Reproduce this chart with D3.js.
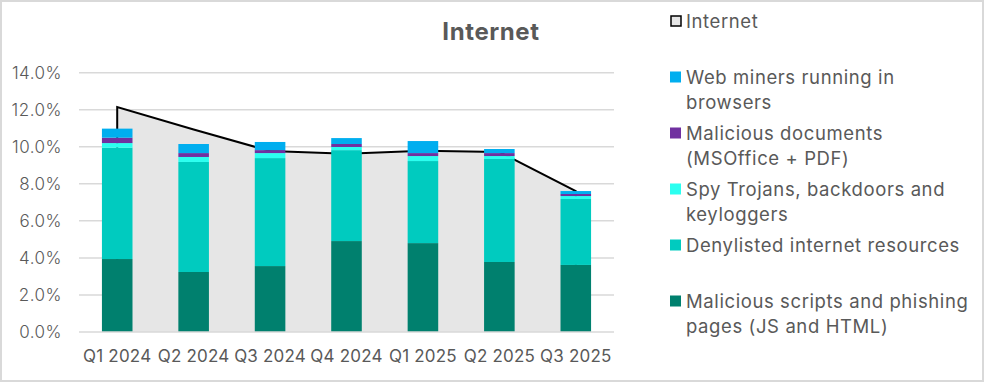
<!DOCTYPE html>
<html><head><meta charset="utf-8">
<script src="https://cdn.jsdelivr.net/npm/d3@7"></script>
<style>html,body{margin:0;padding:0;background:#fff}svg{display:block}</style>
</head><body><svg id="c" width="984" height="382"></svg>
<script>
const categories = ["Q1 2024","Q2 2024","Q3 2024","Q4 2024","Q1 2025","Q2 2025","Q3 2025"];
const internetTotal = [12.15,10.93,9.77,9.62,9.79,9.72,7.61];
const scriptsPhishing = [3.94,3.24,3.56,4.91,4.80,3.78,3.62];
const denylisted = [6.01,5.94,5.83,4.91,4.43,5.56,3.56];
const spyTrojans = [0.25,0.27,0.27,0.17,0.27,0.16,0.16];
const malDocs = [0.29,0.21,0.16,0.16,0.16,0.16,0.11];
const webMiners = [0.49,0.49,0.44,0.32,0.65,0.22,0.16];
const yTicks = [0,2,4,6,8,10,12,14];
const seriesNames = ["Malicious scripts and phishing pages (JS and HTML)","Denylisted internet resources","Spy Trojans, backdoors and keyloggers","Malicious documents (MSOffice + PDF)","Web miners running in browsers"];
const seriesValues = [scriptsPhishing, denylisted, spyTrojans, malDocs, webMiners];
const seriesColors = ["#00806e","#00cbbf","#2bfff0","#7030a0","#00aeef"];
const legendLines = [
  {name:"Internet", lines:["Internet"]},
  {name:seriesNames[4], lines:["Web miners running in","browsers"]},
  {name:seriesNames[3], lines:["Malicious documents","(MSOffice + PDF)"]},
  {name:seriesNames[2], lines:["Spy Trojans, backdoors and","keyloggers"]},
  {name:seriesNames[1], lines:["Denylisted internet resources"]},
  {name:seriesNames[0], lines:["Malicious scripts and phishing","pages (JS and HTML)"]}
];

const svg = d3.select("#c");
const font = "Inter, 'Open Sans', sans-serif";
const textCol = "#595959";
svg.append("rect").attr("x",1).attr("y",1).attr("width",982).attr("height",380)
  .attr("fill","#fff").attr("stroke","#d9d9d9").attr("stroke-width",2);

const plot = {l:79, r:614, t:72.7, b:332};
const x = d3.scaleBand().domain(categories).range([plot.l, plot.r]).paddingInner(0.6).paddingOuter(0.3);
const y = d3.scaleLinear().domain([0,14]).range([plot.b, plot.t]);
const cx = c => x(c) + x.bandwidth()/2;

// gridlines
svg.append("g").selectAll("line").data(yTicks.filter(d=>d>0)).join("line")
  .attr("x1",plot.l).attr("x2",plot.r).attr("y1",d=>y(d)).attr("y2",d=>y(d))
  .attr("stroke","#d9d9d9").attr("stroke-width",1.5);

// area
const areaGen = d3.area().x((d,i)=>cx(categories[i])).y0(y(0)).y1(d=>y(d));
svg.append("path").datum(internetTotal).attr("d",areaGen).attr("fill","#e6e6e6");
const outline = [[cx(categories[0]), y(0)]].concat(internetTotal.map((d,i)=>[cx(categories[i]), y(d)])).concat([[cx(categories[categories.length-1]), y(0)]]);
svg.append("path").attr("d", d3.line()(outline)).attr("fill","none").attr("stroke","#000").attr("stroke-width",2).attr("stroke-linejoin","miter");

// stacked bars
const stackData = categories.map((c,i)=>{const o={cat:c}; seriesNames.forEach((n,k)=>o[n]=seriesValues[k][i]); return o;});
const stacked = d3.stack().keys(seriesNames)(stackData);
svg.append("g").selectAll("g").data(stacked).join("g").attr("fill",(d,i)=>seriesColors[i])
  .selectAll("rect").data(d=>d).join("rect")
  .attr("x",d=>x(d.data.cat)).attr("width",x.bandwidth())
  .attr("y",d=>y(d[1])).attr("height",d=>y(d[0])-y(d[1]));

// x axis line
svg.append("line").attr("x1",plot.l).attr("x2",plot.r).attr("y1",y(0)).attr("y2",y(0)).attr("stroke","#d9d9d9").attr("stroke-width",1.5);

// y labels
const yAxis = d3.axisLeft(y).tickValues(yTicks).tickFormat(d=>d.toFixed(1)+"%").tickSize(0).tickPadding(17);
const ya = svg.append("g").attr("transform",`translate(${plot.l},0)`).call(yAxis);
ya.select(".domain").remove();
ya.selectAll("text").attr("font-family",font).attr("font-size",17).attr("fill",textCol).attr("font-weight",300).attr("letter-spacing",0.5);

// x labels
const xAxis = d3.axisBottom(x).tickSize(0).tickPadding(18);
const xa = svg.append("g").attr("transform",`translate(0,${y(0)})`).call(xAxis);
xa.select(".domain").remove();
xa.selectAll("text").attr("font-family",font).attr("font-size",17).attr("fill",textCol).attr("font-weight",400).attr("letter-spacing",0.2);

// title
svg.append("text").attr("x",491).attr("y",40).attr("text-anchor","middle")
  .attr("font-family",font).attr("font-size",24).attr("font-weight",700).attr("fill",textCol).attr("letter-spacing",0.6).text("Internet");

// legend
const lg = svg.append("g");
legendLines.forEach((e,i)=>{
  const yc = 21 + i*56;
  const col = e.name==="Internet" ? null : seriesColors[seriesNames.indexOf(e.name)];
  const g = lg.append("g");
  if(col===null){
    g.append("rect").attr("x",671).attr("y",yc-5).attr("width",10).attr("height",10).attr("fill","#e6e6e6").attr("stroke","#000").attr("stroke-width",1.5);
  } else {
    g.append("rect").attr("x",670).attr("y",yc-5.5).attr("width",11).attr("height",11).attr("fill",col);
  }
  e.lines.forEach((t,j)=>{
    g.append("text").attr("x",686).attr("y",yc+6.5+j*25).attr("font-family",font).attr("font-size",18.5).attr("letter-spacing",0.6).attr("fill",textCol).text(t);
  });
});
</script></body></html>
